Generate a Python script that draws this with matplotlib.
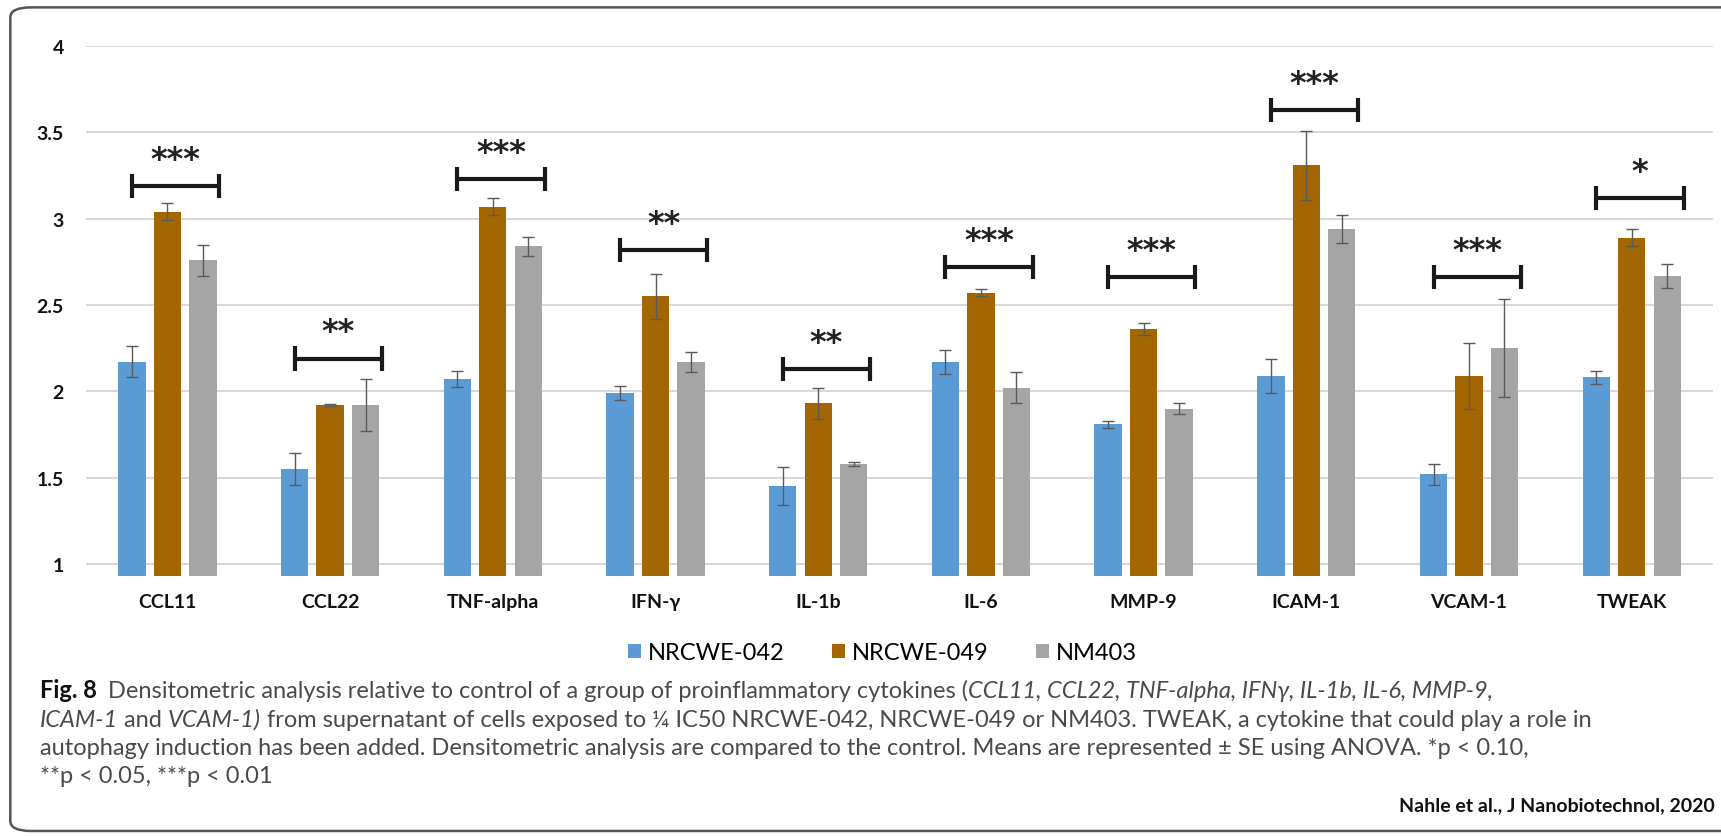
"""Densitometric analysis of proinflammatory cytokines, grouped bars with SE."""

import matplotlib.pyplot as plt
import numpy as np
from matplotlib.patches import FancyBboxPatch

plt.rcParams["font.family"] = ["Lato", "DejaVu Sans"]

cytokines = ["CCL11", "CCL22", "TNF-alpha", "IFN-γ", "IL-1b", "IL-6",
             "MMP-9", "ICAM-1", "VCAM-1", "TWEAK"]
series_names = ["NRCWE-042", "NRCWE-049", "NM403"]

nrcwe042 = [2.17, 1.55, 2.07, 1.99, 1.45, 2.17, 1.81, 2.09, 1.52, 2.08]
nrcwe042_se = [0.09, 0.09, 0.045, 0.04, 0.11, 0.07, 0.02, 0.10, 0.06, 0.04]
nrcwe049 = [3.04, 1.92, 3.07, 2.55, 1.93, 2.57, 2.36, 3.31, 2.09, 2.89]
nrcwe049_se = [0.05, 0.005, 0.05, 0.13, 0.09, 0.02, 0.035, 0.20, 0.19, 0.05]
nm403 = [2.76, 1.92, 2.84, 2.17, 1.58, 2.02, 1.90, 2.94, 2.25, 2.67]
nm403_se = [0.09, 0.15, 0.055, 0.06, 0.01, 0.09, 0.03, 0.08, 0.285, 0.07]

# significance bracket height and star count per cytokine
bracket_y = [3.19, 2.19, 3.23, 2.82, 2.13, 2.72, 2.66, 3.63, 2.66, 3.12]
stars = ["***", "**", "***", "**", "**", "***", "***", "***", "***", "*"]

colours = ["#5B9BD5", "#A36600", "#A5A5A5"]
base = 0.93  # bars start at the bottom of the value axis

fig = plt.figure(figsize=(17.21, 8.37), dpi=100)
ax = fig.add_axes([0.050, 0.3106, 0.9454, 0.6332])

x = np.arange(len(cytokines))
step = 0.218
bw = 0.168
for i, (vals, se) in enumerate([(nrcwe042, nrcwe042_se),
                                (nrcwe049, nrcwe049_se),
                                (nm403, nm403_se)]):
    vals = np.array(vals)
    xs = x + (i - 1) * step
    ax.bar(xs, vals - base, bw, bottom=base, color=colours[i],
           label=series_names[i], zorder=2)
    ax.errorbar(xs, vals, yerr=se, fmt="none", ecolor="#5a5a5a",
                elinewidth=1.0, capsize=4, capthick=1.0, zorder=3)

# brackets with asterisks
for xi, by, s in zip(x, bracket_y, stars):
    x0 = xi - step
    x1 = xi + step + bw * 0.6
    ax.plot([x0, x1], [by, by], color="#1a1a1a", lw=3, solid_capstyle="butt", zorder=4)
    for xe in (x0, x1):
        ax.plot([xe, xe], [by - 0.07, by + 0.07], color="#1a1a1a", lw=3,
                solid_capstyle="butt", zorder=4)
    ax.annotate(s, ((x0 + x1) / 2, by), xytext=(0, 8), textcoords="offset points",
                ha="center", va="bottom", fontsize=23, fontweight="bold",
                color="#222222", family=["DejaVu Sans"])

ax.set_xlim(-0.5, len(cytokines) - 0.5)
ax.set_ylim(base, 4)
ax.set_yticks(np.arange(1, 4.01, 0.5))
ax.set_yticklabels(["1", "1.5", "2", "2.5", "3", "3.5", "4"])
ax.set_xticks(x)
ax.set_xticklabels(cytokines)
ax.tick_params(length=0, labelsize=14)
ax.tick_params(axis="y", pad=16)
ax.tick_params(axis="x", pad=12)
for lab in ax.get_xticklabels() + ax.get_yticklabels():
    lab.set_fontweight("bold")
    lab.set_color("#111111")
ax.yaxis.grid(True, color="#D9D9D9", lw=1.5, zorder=0)
ax.set_axisbelow(True)
for sp in ax.spines.values():
    sp.set_visible(False)

fig.legend(loc="center", bbox_to_anchor=(0.513, 0.219), ncol=3, frameon=False,
           fontsize=17, handlelength=0.55, handleheight=0.55, handletextpad=0.3,
           columnspacing=2.0)

# caption below the chart, each line built from styled runs
cap_lines = [
    [("Fig. 8", "normal", "bold"),
     ("  Densitometric analysis relative to control of a group of proinflammatory cytokines (", "normal", "normal"),
     ("CCL11, CCL22, TNF-alpha, IFNγ, IL-1b, IL-6, MMP-9,", "italic", "normal")],
    [("ICAM-1", "italic", "normal"), (" and ", "normal", "normal"), ("VCAM-1)", "italic", "normal"),
     (" from supernatant of cells exposed to ¼ IC50 NRCWE-042, NRCWE-049 or NM403. TWEAK, a cytokine that could play a role in", "normal", "normal")],
    [("autophagy induction has been added. Densitometric analysis are compared to the control. Means are represented ± SE using ANOVA. *p < 0.10,", "normal", "normal")],
    [("**p < 0.05, ***p < 0.01", "normal", "normal")],
]
cap_y = [0.166, 0.132, 0.098, 0.065]
for runs, y in zip(cap_lines, cap_y):
    last = None
    for txt, style, weight in runs:
        kw = dict(fontsize=17, style=style, fontweight=weight,
                  color="#111111" if weight == "bold" else "#4a4a4a", ha="left")
        if last is None:
            last = fig.text(0.023, y, txt, va="baseline", **kw)
        else:
            last = fig.add_artist(
                plt.Annotation(txt, xy=(1, 0), xycoords=last, va="bottom", **kw))

fig.text(0.9965, 0.031, "Nahle et al., J Nanobiotechnol, 2020", fontsize=14,
         fontweight="bold", color="#111111", ha="right", va="baseline")

frame = FancyBboxPatch((0.006, 0.006), 1.2, 0.984, transform=fig.transFigure,
                       boxstyle="round,pad=0,rounding_size=0.012",
                       fill=False, edgecolor="#555555", lw=1.8)
fig.add_artist(frame)

fig.savefig("out.png", dpi=100, facecolor="white")
